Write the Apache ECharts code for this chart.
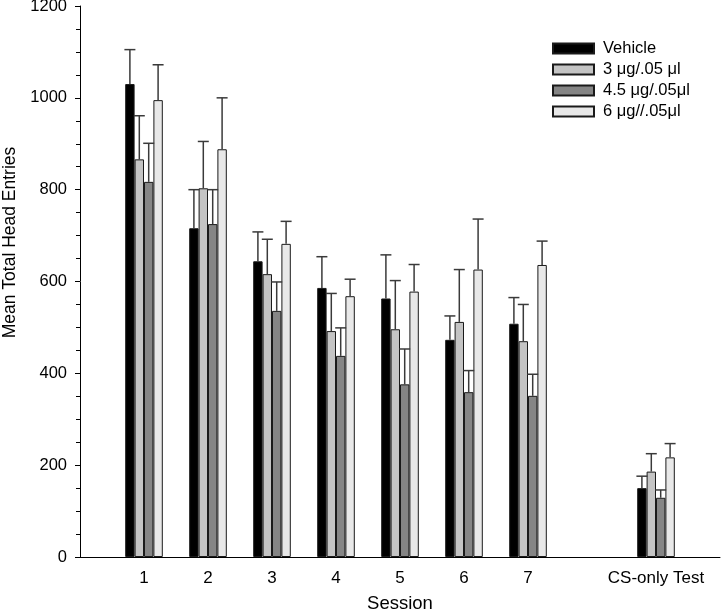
<!DOCTYPE html>
<html>
<head>
<meta charset="utf-8">
<script src="https://cdn.jsdelivr.net/npm/echarts@6/dist/echarts.min.js"></script>
<style>html,body{margin:0;padding:0;background:#fff}#c{width:721px;height:612px}</style>
</head>
<body>
<div id="c"></div>
<script>
// Axis categories (positions 0..10; empty ones are spacing slots)
const categories = ['', '1', '2', '3', '4', '5', '6', '7', '', 'CS-only Test', ''];
const sessionSlots = [1, 2, 3, 4, 5, 6, 7, 9];
const seriesNames = ['Vehicle', '3 μg/.05 μl', '4.5 μg/.05μl', '6 μg//.05μl'];
const vehicleMean = [1030, 716, 644, 586, 563, 473, 508, 150];
const vehicleErr  = [75, 84, 64, 68, 95, 52, 57, 26];
const dose3Mean   = [866, 803, 616, 492, 496, 512, 470, 186];
const dose3Err    = [95, 102, 76, 82, 106, 114, 80, 39];
const dose45Mean  = [817, 725, 536, 438, 376, 359, 351, 129];
const dose45Err   = [84, 75, 63, 61, 77, 47, 47, 17];
const dose6Mean   = [995, 888, 682, 568, 578, 626, 636, 217];
const dose6Err    = [77, 112, 49, 37, 59, 110, 52, 30];
const yTicks = [0, 200, 400, 600, 800, 1000, 1200];

const means = [vehicleMean, dose3Mean, dose45Mean, dose6Mean];
const errs = [vehicleErr, dose3Err, dose45Err, dose6Err];
const colors = ['#000000', '#c4c4c4', '#858585', '#e8e8e8'];
const BW = 9.4;
const FONT = 'Liberation Sans, Arial, sans-serif';

const series = [];
means.forEach((m, k) => {
  series.push({
    name: seriesNames[k],
    type: 'bar',
    barWidth: BW,
    barGap: '0%',
    itemStyle: { color: colors[k], borderColor: '#1a1a1a', borderWidth: 1 },
    data: sessionSlots.map((s, i) => [s, m[i]]),
    z: 2
  });
});
means.forEach((m, k) => {
  series.push({
    name: 'err' + k,
    type: 'custom',
    z: 3,
    data: sessionSlots.map((s, i) => [s, m[i], errs[k][i]]),
    renderItem: function (params, api) {
      const c = api.value(0), v = api.value(1), e = api.value(2);
      const p0 = api.coord([c, v]);
      const p1 = api.coord([c, v + e]);
      const x = p0[0] + (k - 1.5) * BW;
      const half = 5.5;
      return {
        type: 'group',
        children: [
          { type: 'line', shape: { x1: x, y1: p0[1], x2: x, y2: p1[1] }, style: { stroke: '#3a3a3a', lineWidth: 1.5 } },
          { type: 'line', shape: { x1: x - half, y1: p1[1], x2: x + half, y2: p1[1] }, style: { stroke: '#3a3a3a', lineWidth: 1.5 } }
        ]
      };
    }
  });
});

const chart = echarts.init(document.getElementById('c'), null, { renderer: 'canvas' });
chart.setOption({
  animation: false,
  backgroundColor: '#fff',
  textStyle: { fontFamily: FONT },
  grid: { left: 80, right: 1, top: 6, bottom: 55, containLabel: false, outerBoundsMode: 'none' },
  legend: {
    data: seriesNames,
    orient: 'vertical',
    left: 547,
    top: 35,
    itemWidth: 41,
    itemHeight: 10,
    itemGap: 4,
    icon: 'rect',
    textStyle: { fontSize: 16.5, color: '#000', fontFamily: FONT, padding: [0, 0, 0, 4] }
  },
  xAxis: {
    type: 'category',
    data: categories,
    boundaryGap: false,
    name: 'Session',
    nameLocation: 'middle',
    nameGap: 37,
    nameTextStyle: { fontSize: 18.5, color: '#000', fontFamily: FONT },
    axisLine: { lineStyle: { color: '#000', width: 1 } },
    axisTick: { show: false },
    axisLabel: { interval: 0, fontSize: 17, color: '#000', margin: 13, fontFamily: FONT },
    splitLine: { show: false }
  },
  yAxis: {
    type: 'value',
    min: yTicks[0],
    max: yTicks[yTicks.length - 1],
    interval: yTicks[1] - yTicks[0],
    name: 'Mean Total Head Entries',
    nameLocation: 'middle',
    nameGap: 61,
    nameTextStyle: { fontSize: 17.5, color: '#000', fontFamily: FONT, padding: [0, 0, 0, 78] },
    axisLine: { show: true, lineStyle: { color: '#000', width: 1 } },
    axisTick: { show: true, inside: false, length: 5, lineStyle: { color: '#000' } },
    minorTick: { show: true, splitNumber: 4, length: 4, lineStyle: { color: '#000' } },
    axisLabel: { fontSize: 16.5, color: '#000', margin: 13, fontFamily: FONT, formatter: v => String(v) },
    splitLine: { show: false },
    minorSplitLine: { show: false }
  },
  series: series
});
</script>
</body>
</html>
